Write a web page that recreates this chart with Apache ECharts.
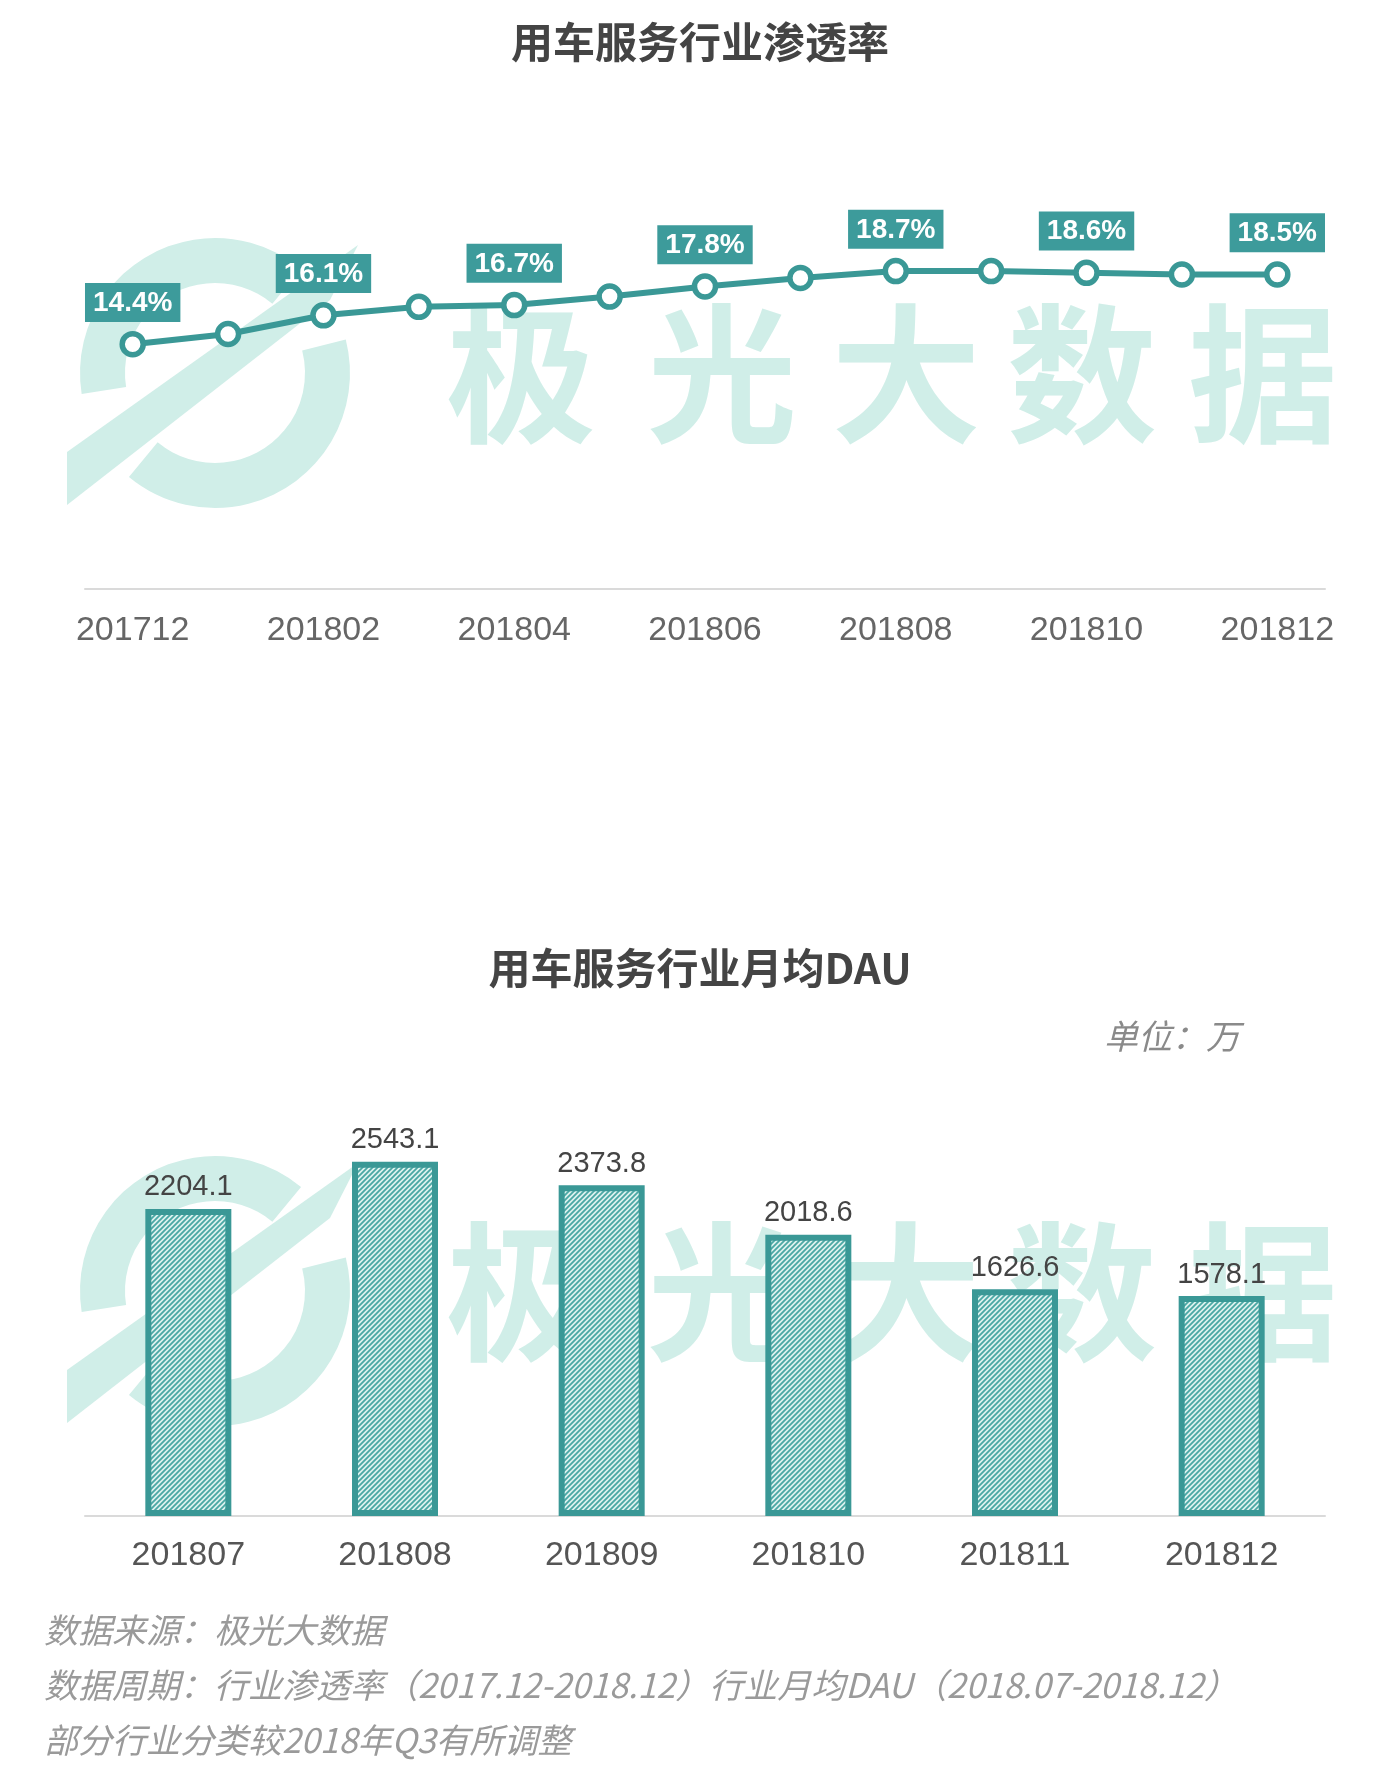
<!DOCTYPE html>
<html>
<head>
<meta charset="utf-8">
<script src="https://cdn.jsdelivr.net/npm/echarts@6/dist/echarts.min.js"></script>
<style>
html,body{margin:0;padding:0;background:#fff;}
#main{width:1400px;height:1776px;}
</style>
</head>
<body>
<div id="main"></div>
<script>
// ---- data ----
const lineCategories = ['201712','201801','201802','201803','201804','201805','201806','201807','201808','201809','201810','201811','201812'];
const penetrationValues = [14.4, 15.0, 16.1, 16.6, 16.7, 17.2, 17.8, 18.3, 18.7, 18.7, 18.6, 18.5, 18.5];
const barCategories = ['201807','201808','201809','201810','201811','201812'];
const dauValues = [2204.1, 2543.1, 2373.8, 2018.6, 1626.6, 1578.1];
const lineTitle = '用车服务行业渗透率';
const barTitle = '用车服务行业月均DAU';
const unitText = '单位：万';
const footnotes = [
  '数据来源：极光大数据',
  '数据周期：行业渗透率（2017.12-2018.12）行业月均DAU（2018.07-2018.12）',
  '部分行业分类较2018年Q3有所调整'
];
const watermarkChars = ['极','光','大','数','据'];

// ---- styles ----
const TEAL = '#3a9896';
const LABEL_BG = '#3d9b9b';
const WM = '#d0eee8';
const CJK = '"Noto Sans CJK SC","Liberation Sans",sans-serif';
const LAT = '"Liberation Sans","Noto Sans CJK SC",sans-serif';

// hatch pattern
const tile = document.createElement('canvas');
tile.width = 5; tile.height = 5;
(function(){
  const g = tile.getContext('2d');
  g.fillStyle = '#def2ef';
  g.fillRect(0,0,5,5);
  g.strokeStyle = '#4aa7a4';
  g.lineWidth = 1.8;
  g.beginPath();
  g.moveTo(-1,6); g.lineTo(6,-1);
  g.moveTo(-3.5,3.5); g.lineTo(3.5,-3.5);
  g.moveTo(1.5,8.5); g.lineTo(8.5,1.5);
  g.stroke();
})();

const chart = echarts.init(document.getElementById('main'), null, {renderer:'canvas'});

function watermark(dy){
  const els = [];
  const cx = 215, cy = 373 + dy;
  els.push({type:'sector', z:0, silent:true,
    shape:{cx:cx, cy:cy, r:135, r0:90, startAngle:Math.PI*0.95, endAngle:Math.PI*1.72, clockwise:true},
    style:{fill:WM}});
  els.push({type:'sector', z:0, silent:true,
    shape:{cx:cx, cy:cy, r:135, r0:90, startAngle:-Math.PI*0.08, endAngle:Math.PI*0.72, clockwise:true},
    style:{fill:WM}});
  els.push({type:'polygon', z:0, silent:true,
    shape:{points:[[67,452+dy],[67,505+dy],[330,300+dy],[358,245+dy]]},
    style:{fill:WM}});
  const centers = [521, 722, 906, 1082, 1263];
  watermarkChars.forEach((ch,i)=>{
    els.push({type:'text', z:0, silent:true, x:centers[i], y:374+dy,
      style:{text:ch, fill:WM, font:'bold 150px "Noto Sans CJK SC"', align:'center', verticalAlign:'middle'}});
  });
  return els;
}

const graphics = [].concat(watermark(0), watermark(918));
graphics.push({type:'text', z:5, x:1104, y:1036,
  style:{text:unitText, fill:'#8a8a8a', font:'italic 34px "Noto Sans CJK SC"', align:'left', verticalAlign:'middle'}});
const footY = [1630, 1685, 1740];
footnotes.forEach((t,i)=>{
  graphics.push({type:'text', z:5, x:44, y:footY[i],
    style:{text:t, fill:'#9a9a9a', font:'italic 34px "Noto Sans CJK SC"', align:'left', verticalAlign:'middle'}});
});

const lineData = penetrationValues.map((v,i)=>({
  value:v,
  label:{show: i % 2 === 0}
}));

const option = {
  backgroundColor:'#ffffff',
  animation:false,
  title:[
    {text:lineTitle, left:'center', top:16, textStyle:{fontFamily:CJK, fontSize:42, fontWeight:'bold', color:'#444'}},
    {text:barTitle, left:'center', top:942, textStyle:{fontFamily:CJK, fontSize:42, fontWeight:'bold', color:'#444'}}
  ],
  graphic: graphics,
  grid:[
    {left:85, right:75, top:164, height:425},
    {left:85, right:75, top:1098, height:418}
  ],
  xAxis:[
    {type:'category', gridIndex:0, data:lineCategories, boundaryGap:true,
      axisLine:{show:true, lineStyle:{color:'#dadada', width:2}},
      axisTick:{show:false},
      axisLabel:{interval:1, margin:25, fontSize:34, color:'#666', fontFamily:LAT}},
    {type:'category', gridIndex:1, data:barCategories, boundaryGap:true,
      axisLine:{show:true, lineStyle:{color:'#dadada', width:2}},
      axisTick:{show:false},
      axisLabel:{margin:23, fontSize:34, color:'#555', fontFamily:LAT}}
  ],
  yAxis:[
    {type:'value', gridIndex:0, min:0, max:25, show:false, splitLine:{show:false}},
    {type:'value', gridIndex:1, min:0, max:3000, show:false, splitLine:{show:false}}
  ],
  series:[
    {type:'line', xAxisIndex:0, yAxisIndex:0, data:lineData, z:3,
      symbol:'circle', symbolSize:21,
      lineStyle:{color:TEAL, width:6},
      itemStyle:{color:'#ffffff', borderColor:TEAL, borderWidth:5.5},
      label:{position:'top', distance:9, formatter:p=>p.value+'%',
        color:'#fff', fontSize:28, fontWeight:'bold', fontFamily:LAT,
        backgroundColor:LABEL_BG, padding:[6,8,5,8]}
    },
    {type:'bar', xAxisIndex:1, yAxisIndex:1, data:dauValues, z:3,
      barWidth:86,
      itemStyle:{color:{image:tile, repeat:'repeat'}, borderColor:TEAL, borderWidth:6},
      label:{show:true, position:'top', distance:7, color:'#444', fontSize:29, fontFamily:LAT}
    }
  ]
};
chart.setOption(option);
</script>
</body>
</html>
